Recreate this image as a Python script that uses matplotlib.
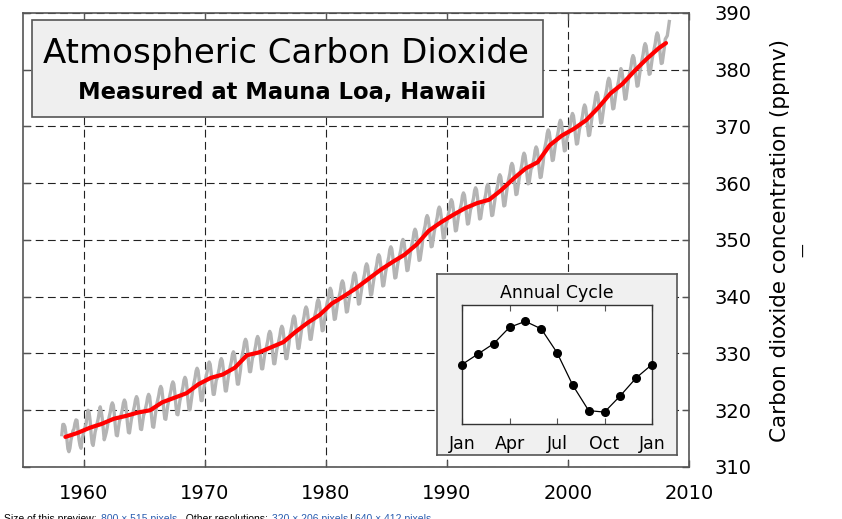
import matplotlib
matplotlib.use("Agg")
import matplotlib.pyplot as plt
from matplotlib.patches import Rectangle
import numpy as np

# monthly Mauna Loa CO2 (ppmv), one row per year, 1958 starts in March, 2008 ends in May
first_year = 1958
first_month = 3
monthly_co2 = [
    [315.7, 317.5, 317.5, 317.1, 315.9, 314.9, 313.2, 312.7, 313.3, 314.7],
    [315.6, 316.4, 316.7, 317.7, 318.3, 318.2, 316.5, 314.8, 313.8, 313.3, 314.8, 315.6],
    [316.4, 317.0, 317.6, 319.0, 320.0, 319.6, 318.2, 315.9, 314.2, 313.8, 315.0, 316.2],
    [316.9, 317.7, 318.5, 319.5, 320.6, 319.8, 318.6, 316.8, 314.8, 315.4, 316.1, 317.0],
    [318.1, 318.9, 319.7, 320.8, 321.3, 320.9, 319.3, 317.2, 315.6, 315.5, 316.8, 318.0],
    [318.6, 319.4, 320.2, 321.3, 321.8, 321.4, 319.8, 317.7, 316.1, 316.0, 317.3, 318.5],
    [319.2, 320.0, 320.8, 321.9, 322.4, 322.0, 320.4, 318.3, 316.7, 316.6, 317.9, 319.1],
    [319.6, 320.4, 321.2, 322.3, 322.8, 322.4, 320.8, 318.7, 317.1, 317.0, 318.3, 319.5],
    [321.0, 321.8, 322.6, 323.7, 324.2, 323.8, 322.2, 320.1, 318.5, 318.4, 319.7, 320.9],
    [321.8, 322.6, 323.4, 324.5, 325.0, 324.6, 323.0, 320.9, 319.3, 319.2, 320.5, 321.7],
    [322.4, 323.3, 324.1, 325.3, 325.8, 325.4, 323.9, 321.7, 320.1, 320.1, 321.4, 322.6],
    [324.0, 324.9, 325.7, 326.9, 327.4, 327.0, 325.5, 323.3, 321.7, 321.7, 323.0, 324.2],
    [325.1, 326.0, 326.8, 328.0, 328.5, 328.1, 326.6, 324.4, 322.8, 322.8, 324.1, 325.3],
    [325.7, 326.6, 327.4, 328.6, 329.1, 328.7, 327.2, 325.0, 323.4, 323.4, 324.7, 325.9],
    [326.9, 327.8, 328.6, 329.8, 330.3, 329.9, 328.4, 326.2, 324.6, 324.6, 325.9, 327.1],
    [329.1, 330.0, 330.8, 332.0, 332.5, 332.1, 330.6, 328.4, 326.8, 326.8, 328.1, 329.3],
    [329.6, 330.5, 331.3, 332.5, 333.0, 332.6, 331.1, 328.9, 327.3, 327.3, 328.6, 329.8],
    [330.5, 331.4, 332.2, 333.4, 333.9, 333.5, 332.0, 329.8, 328.2, 328.2, 329.5, 330.7],
    [331.4, 332.3, 333.1, 334.3, 334.8, 334.4, 332.9, 330.7, 329.1, 329.1, 330.4, 331.6],
    [333.2, 334.1, 334.9, 336.1, 336.6, 336.2, 334.7, 332.5, 330.9, 330.9, 332.2, 333.4],
    [334.8, 335.7, 336.5, 337.7, 338.2, 337.8, 336.3, 334.1, 332.5, 332.5, 333.8, 335.0],
    [336.1, 336.9, 337.7, 339.0, 339.5, 339.1, 337.7, 335.6, 334.0, 334.1, 335.4, 336.6],
    [338.1, 338.9, 339.7, 341.0, 341.5, 341.1, 339.7, 337.6, 336.0, 336.1, 337.4, 338.6],
    [339.4, 340.2, 341.0, 342.3, 342.8, 342.4, 341.0, 338.9, 337.3, 337.4, 338.7, 339.9],
    [340.8, 341.6, 342.4, 343.7, 344.2, 343.8, 342.4, 340.3, 338.7, 338.8, 340.1, 341.3],
    [342.4, 343.2, 344.0, 345.3, 345.8, 345.4, 344.0, 341.9, 340.3, 340.4, 341.7, 342.9],
    [344.0, 344.8, 345.6, 346.9, 347.4, 347.0, 345.6, 343.5, 341.9, 342.0, 343.3, 344.5],
    [345.4, 346.2, 347.0, 348.3, 348.8, 348.4, 347.0, 344.9, 343.3, 343.4, 344.7, 345.9],
    [346.7, 347.5, 348.3, 349.6, 350.1, 349.7, 348.3, 346.2, 344.6, 344.7, 346.0, 347.2],
    [348.5, 349.3, 350.1, 351.4, 351.9, 351.5, 350.1, 348.0, 346.4, 346.5, 347.8, 349.0],
    [350.9, 351.7, 352.5, 353.8, 354.3, 353.9, 352.5, 350.4, 348.8, 348.9, 350.2, 351.4],
    [352.4, 353.2, 354.0, 355.3, 355.8, 355.4, 354.0, 351.9, 350.3, 350.4, 351.7, 352.9],
    [353.7, 354.5, 355.3, 356.6, 357.1, 356.7, 355.3, 353.2, 351.6, 351.7, 353.0, 354.2],
    [354.9, 355.7, 356.5, 357.8, 358.3, 357.9, 356.5, 354.4, 352.8, 352.9, 354.2, 355.4],
    [355.8, 356.6, 357.4, 358.7, 359.2, 358.8, 357.4, 355.3, 353.7, 353.8, 355.1, 356.3],
    [356.4, 357.2, 358.0, 359.3, 359.8, 359.4, 358.0, 355.9, 354.3, 354.4, 355.7, 356.9],
    [358.1, 358.9, 359.7, 361.0, 361.5, 361.1, 359.7, 357.6, 356.0, 356.1, 357.4, 358.6],
    [360.1, 360.9, 361.7, 363.0, 363.5, 363.1, 361.7, 359.6, 358.0, 358.1, 359.4, 360.6],
    [361.7, 362.5, 363.4, 364.7, 365.3, 364.9, 363.5, 361.4, 359.9, 360.0, 361.3, 362.6],
    [362.8, 363.6, 364.5, 365.8, 366.4, 366.0, 364.6, 362.5, 361.0, 361.1, 362.4, 363.7],
    [365.8, 366.6, 367.5, 368.8, 369.4, 369.0, 367.6, 365.5, 364.0, 364.1, 365.4, 366.7],
    [367.5, 368.3, 369.2, 370.5, 371.1, 370.7, 369.3, 367.2, 365.7, 365.8, 367.1, 368.4],
    [368.7, 369.5, 370.4, 371.7, 372.3, 371.9, 370.5, 368.4, 366.9, 367.0, 368.3, 369.6],
    [370.2, 371.0, 371.9, 373.2, 373.8, 373.4, 372.0, 369.9, 368.4, 368.5, 369.8, 371.1],
    [372.4, 373.2, 374.1, 375.4, 376.0, 375.6, 374.2, 372.1, 370.6, 370.7, 372.0, 373.3],
    [374.9, 375.7, 376.6, 377.9, 378.5, 378.1, 376.7, 374.6, 373.1, 373.2, 374.5, 375.8],
    [376.6, 377.4, 378.3, 379.6, 380.2, 379.8, 378.4, 376.3, 374.8, 374.9, 376.2, 377.5],
    [378.9, 379.7, 380.6, 381.9, 382.5, 382.1, 380.7, 378.6, 377.1, 377.2, 378.5, 379.8],
    [381.0, 381.8, 382.7, 384.0, 384.6, 384.2, 382.8, 380.7, 379.2, 379.3, 380.6, 381.9],
    [382.9, 383.7, 384.6, 385.9, 386.5, 386.1, 384.7, 382.6, 381.1, 381.2, 382.5, 383.8],
    [385.4, 385.7, 386.0, 387.2, 388.5],
]

# annual means (red line), plotted at mid-year; last point is the partial 2008 value
trend_years = [1958.5, 1959.5, 1960.5, 1961.5, 1962.5, 1963.5, 1964.5, 1965.5, 1966.5, 1967.5,
               1968.5, 1969.5, 1970.5, 1971.5, 1972.5, 1973.5, 1974.5, 1975.5, 1976.5, 1977.5,
               1978.5, 1979.5, 1980.5, 1981.5, 1982.5, 1983.5, 1984.5, 1985.5, 1986.5, 1987.5,
               1988.5, 1989.5, 1990.5, 1991.5, 1992.5, 1993.5, 1994.5, 1995.5, 1996.5, 1997.5,
               1998.5, 1999.5, 2000.5, 2001.5, 2002.5, 2003.5, 2004.5, 2005.5, 2006.5, 2007.5,
               2008.1]
trend_co2 = [315.3, 316.0, 316.9, 317.6, 318.5, 319.0, 319.6, 320.0, 321.4, 322.2,
             323.0, 324.6, 325.7, 326.3, 327.5, 329.7, 330.2, 331.1, 332.0, 333.8,
             335.4, 336.8, 338.8, 340.1, 341.5, 343.1, 344.7, 346.1, 347.4, 349.2,
             351.6, 353.1, 354.4, 355.6, 356.5, 357.1, 358.8, 360.8, 362.6, 363.7,
             366.7, 368.4, 369.6, 371.1, 373.3, 375.8, 377.5, 379.8, 381.9, 383.8,
             384.7]

# inset: annual cycle, Jan .. Jan (ppmv departure)
cycle_month = [0, 1, 2, 3, 4, 5, 6, 7, 8, 9, 10, 11, 12]
cycle_co2 = [0.0, 0.7, 1.4, 2.5, 2.9, 2.4, 0.8, -1.4, -3.1, -3.2, -2.1, -0.9, 0.0]
cycle_ticks = [0, 3, 6, 9, 12]
cycle_labels = ["Jan", "Apr", "Jul", "Oct", "Jan"]

x_ticks = [1960, 1970, 1980, 1990, 2000, 2010]
y_ticks = [310, 320, 330, 340, 350, 360, 370, 380, 390]

# decimal year for every monthly value
month_x = []
month_y = []
for i, row in enumerate(monthly_co2):
    start = first_month if i == 0 else 1
    for j, v in enumerate(row):
        month_x.append(first_year + i + (start + j - 0.5) / 12)
        month_y.append(v)

W, H = 842, 519
fig = plt.figure(figsize=(W / 100, H / 100), dpi=100)
fig.patch.set_facecolor("white")

spine_col = "#555555"

ax = fig.add_axes([23 / W, 1 - 467 / H, 666 / W, 454 / H])
ax.plot(month_x, month_y, color="#b4b4b4", lw=2.4, zorder=2)
ax.plot(trend_years, trend_co2, color="#ff0000", lw=3.0, zorder=3, solid_capstyle="round")
ax.set_xlim(1955, 2010)
ax.set_ylim(310, 390)
ax.set_xticks(x_ticks)
ax.set_yticks(y_ticks)
ax.grid(True, color="#222222", linestyle=(0, (7, 4)), lw=0.8)
ax.tick_params(direction="in", length=5, width=1, color=spine_col,
               top=True, bottom=True, left=True, right=True,
               labelleft=False, labelright=True, labelsize=14)
ax.tick_params(axis="x", pad=12.5)
ax.tick_params(axis="y", pad=18.5)
for s in ax.spines.values():
    s.set_color(spine_col)
    s.set_linewidth(1.2)
ax.yaxis.set_label_position("right")
ax.set_ylabel("Carbon dioxide concentration (ppmv)", fontsize=15.5, labelpad=13)

# title box
ax.add_patch(Rectangle((0.0135, 0.771), 0.767, 0.2137, transform=ax.transAxes,
                       facecolor="#efefef", edgecolor=spine_col, lw=1.2, zorder=5))
ax.text(0.395, 0.8899, "Atmospheric Carbon Dioxide", transform=ax.transAxes,
        ha="center", va="baseline", fontsize=24.5, zorder=6)
ax.text(0.3895, 0.8106, "Measured at Mauna Loa, Hawaii", transform=ax.transAxes,
        ha="center", va="baseline", fontsize=16.3, fontweight="bold", zorder=6)

# inset background box
box = fig.add_axes([437 / W, 1 - 455 / H, 240 / W, 181 / H])
box.set_facecolor("#f0f0f0")
box.set_xticks([])
box.set_yticks([])
for s in box.spines.values():
    s.set_color(spine_col)
    s.set_linewidth(1.2)
fig.text(557 / W, 1 - 298 / H, "Annual Cycle", ha="center", va="baseline", fontsize=12.5)

ins = fig.add_axes([462 / W, 1 - 424 / H, 190 / W, 119 / H])
ins.plot(cycle_month, cycle_co2, color="black", lw=0.9, marker="o", markersize=5.5,
         clip_on=False, zorder=3)
ins.set_xlim(0, 12)
ins.set_ylim(-4, 4)
ins.set_xticks(cycle_ticks)
ins.set_xticklabels(cycle_labels)
ins.set_yticks([])
ins.tick_params(axis="x", direction="in", length=4, top=True, color=spine_col,
                labelsize=12.5, pad=8)
for s in ins.spines.values():
    s.set_color("#333333")
    s.set_linewidth(1.0)

fig.text(804 / W, 1 - 250 / H, "\u2014", rotation=90, ha="center", va="center", fontsize=10)

# clipped page caption at the bottom
cap_y = 1 - 522 / H
blue = "#2a5db0"
caption = [
    (4, "Size of this preview:", "black"),
    (101, "800 \u00d7 515 pixels", blue),
    (180, ". Other resolutions:", "black"),
    (272, "320 \u00d7 206 pixels", blue),
    (349, "|", "black"),
    (355, "640 \u00d7 412 pixels", blue),
    (434, ".", "black"),
]
for x, s, c in caption:
    fig.text(x / W, cap_y, s, color=c, fontsize=7.5, family="Liberation Sans", va="baseline")

fig.savefig("out.png", dpi=100)
